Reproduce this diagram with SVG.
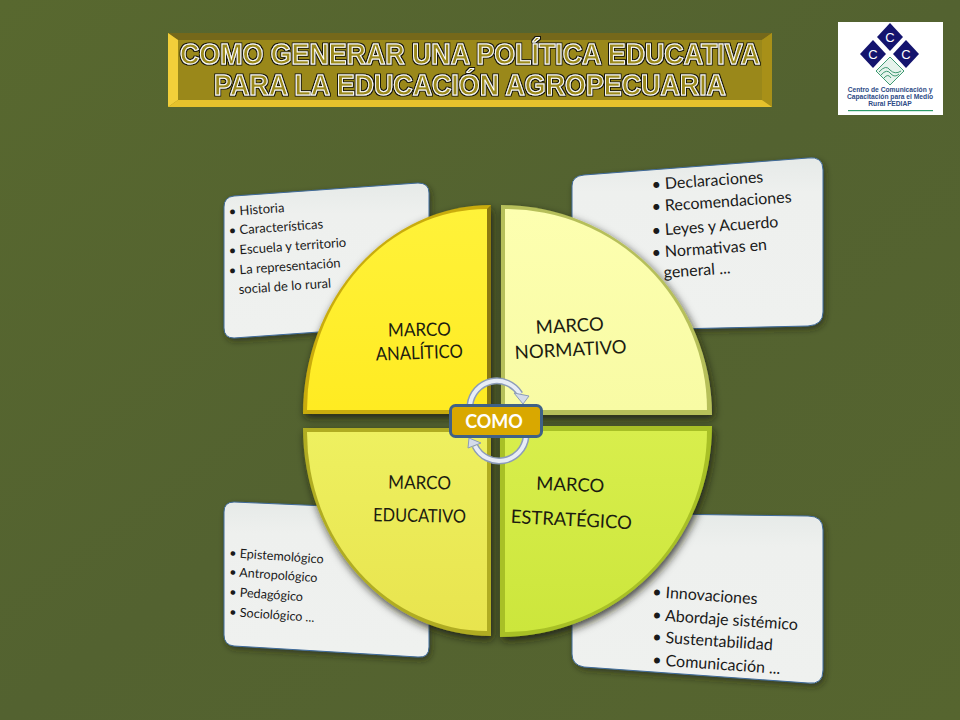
<svg xmlns="http://www.w3.org/2000/svg" width="960" height="720" viewBox="0 0 960 720">
<style>
.card{fill:url(#cardG);stroke:#3f6a9a;stroke-width:1;filter:url(#sh)}
.li{font-family:Lato,"Open Sans","Liberation Sans",sans-serif;fill:#1a1a1a}
.big{font-family:Lato,"Open Sans","Liberation Sans",sans-serif;fill:#1c1c10;font-size:18.5px;text-anchor:middle}
.title{font-family:"Liberation Sans",Arial,sans-serif;font-weight:bold;font-size:29px;fill:#9a881a;stroke:#fff;stroke-width:1;filter:url(#outline);text-anchor:start}
.logo{font-family:"Liberation Sans",Arial,sans-serif;font-weight:bold;font-size:6.7px;fill:#2c4a86;text-anchor:middle}
.c{font-family:"Liberation Sans",Arial,sans-serif;font-size:13px;fill:#fff;text-anchor:middle}
.dia{fill:#14146e}
.ring{fill:none;stroke:#8c9cb8;stroke-width:7}
.ringI{fill:none;stroke:#e8edf6;stroke-width:4}
.head{fill:#d4dcea;stroke:#8c9cb8;stroke-width:1}
</style>
<defs>
<linearGradient id="bg" x1="0" y1="0" x2="1" y2="1"><stop offset="0" stop-color="#58682f"/><stop offset=".5" stop-color="#536230"/><stop offset="1" stop-color="#56652f"/></linearGradient>
<linearGradient id="cardG" x1="0" y1="0" x2="0" y2="1"><stop offset="0" stop-color="#e6eae8"/><stop offset=".2" stop-color="#eef0ee"/><stop offset="1" stop-color="#eff1ef"/></linearGradient>
<linearGradient id="q1" x1="0" y1="0" x2="0" y2="1"><stop offset="0" stop-color="#fff23a"/><stop offset="1" stop-color="#ffeb22"/></linearGradient>
<linearGradient id="q2" x1="0" y1="0" x2="0" y2="1"><stop offset="0" stop-color="#fdffb0"/><stop offset="1" stop-color="#f8fba4"/></linearGradient>
<linearGradient id="q3" x1="0" y1="0" x2="0" y2="1"><stop offset="0" stop-color="#eef060"/><stop offset="1" stop-color="#e8e44e"/></linearGradient>
<linearGradient id="q4" x1="0" y1="0" x2="0" y2="1"><stop offset="0" stop-color="#d8ee4c"/><stop offset="1" stop-color="#cce63c"/></linearGradient>
<filter id="sh" x="-15%" y="-15%" width="130%" height="130%"><feDropShadow dx="2" dy="3" stdDeviation="3" flood-color="#1c2410" flood-opacity=".55"/></filter>
<filter id="qs" x="-15%" y="-15%" width="130%" height="130%"><feDropShadow dx="2" dy="4" stdDeviation="4" flood-color="#14180a" flood-opacity=".8"/></filter>
<filter id="outline" x="-5%" y="-20%" width="110%" height="140%">
<feMorphology in="SourceAlpha" operator="dilate" radius="1" result="d"/>
<feFlood flood-color="#16160c"/><feComposite in2="d" operator="in" result="k"/>
<feMerge><feMergeNode in="k"/><feMergeNode in="SourceGraphic"/></feMerge>
</filter>
</defs>
<rect id="background" width="960" height="720" fill="url(#bg)"/>

<g id="title">
<rect x="168" y="33" width="604" height="74" fill="#9a881a"/>
<polygon points="168,33 772,33 762,40 178,40" fill="#75681a"/>
<polygon points="168,33 178,40 178,100 168,107" fill="#f2cf3a"/>
<polygon points="772,33 762,40 762,100 772,107" fill="#a89018"/>
<polygon points="168,107 178,100 762,100 772,107" fill="#e6c22c"/>
<text class="title" x="180" y="64" textLength="580" lengthAdjust="spacingAndGlyphs">COMO GENERAR UNA POLÍTICA EDUCATIVA</text>
<text class="title" x="214" y="95" textLength="512" lengthAdjust="spacingAndGlyphs">PARA LA EDUCACIÓN AGROPECUARIA</text>
</g>

<g id="logo">
<rect x="838" y="22" width="105" height="93" fill="#fff"/>
<polygon class="dia" points="890,23 903,37 890,51 877,37"/>
<polygon class="dia" points="873,40 886,54 873,68 860,54"/>
<polygon class="dia" points="906,40 919,54 906,68 893,54"/>
<text class="c" x="890" y="42">C</text>
<text class="c" x="873" y="59">C</text>
<text class="c" x="906" y="59">C</text>
<polygon points="890,57 904,71 890,85 876,71" fill="#e6f3ec" stroke="#3f9a72" stroke-width="1"/>
<path d="M879,72 Q886,64 890,70 Q895,75 901,71 M881,75 Q887,68 891,74 Q895,78 899,74 M884,78 Q888,73 891,78" fill="none" stroke="#3f9a72" stroke-width="1"/>
<text class="logo" x="890" y="92">Centro de Comunicación y</text>
<text class="logo" x="890" y="99">Capacitación para el Medio</text>
<text class="logo" x="890" y="106">Rural FEDIAP</text>
<rect x="848" y="110" width="85" height="1.2" fill="#2f9a6a"/>
</g>

<g id="card-analitico">
<path class="card" d="M224,207 Q224,197 234,196 L418,183 Q429,183 429,193 L429,315 Q429,325 418,325 L234,338 Q224,338 224,328 Z"/>
<g class="li" font-size="13">
<text transform="translate(229,216) rotate(-4)">• Historia</text>
<text transform="translate(229,235) rotate(-4)">• Características</text>
<text transform="translate(229,255) rotate(-4)">• Escuela y territorio</text>
<text transform="translate(229,275) rotate(-4)">• La representación</text>
<text transform="translate(239,294) rotate(-4)">social de lo rural</text>
</g>
</g>
<g id="card-normativo">
<path class="card" d="M572,186 Q572,176 584,175 L808,158 Q823,156 823,170 L823,312 Q823,325 808,326 L584,331 Q572,331 572,320 Z"/>
<g class="li" font-size="16">
<text transform="translate(652,190) rotate(-4)">• Declaraciones</text>
<text transform="translate(652,212) rotate(-4)">• Recomendaciones</text>
<text transform="translate(652,236) rotate(-4)">• Leyes y Acuerdo</text>
<text transform="translate(652,258) rotate(-4)">• Normativas en</text>
<text transform="translate(664,278) rotate(-4)">general ...</text>
</g>
</g>
<g id="card-educativo">
<path class="card" d="M224,512 Q224,502 234,502 L418,510 Q429,510 429,520 L429,647 Q429,658 418,657 L234,646 Q224,645 224,635 Z"/>
<g class="li" font-size="12.6">
<text transform="translate(229,557) rotate(4)">• Epistemológico</text>
<text transform="translate(229,576) rotate(4)">• Antropológico</text>
<text transform="translate(229,596) rotate(4)">• Pedagógico</text>
<text transform="translate(229,616) rotate(4)">• Sociológico ...</text>
</g>
</g>
<g id="card-estrategico">
<path class="card" d="M572,525 Q572,513 584,513 L808,516 Q823,516 823,530 L823,670 Q823,685 808,683 L584,667 Q572,665 572,654 Z"/>
<g class="li" font-size="16">
<text transform="translate(652,597) rotate(4)">• Innovaciones</text>
<text transform="translate(652,620) rotate(4)">• Abordaje sistémico</text>
<text transform="translate(652,642) rotate(4)">• Sustentabilidad</text>
<text transform="translate(652,665) rotate(4)">• Comunicación ...</text>
</g>
</g>

<g id="marco-analitico">
<path d="M491,205 L491,414 L303,414 A188,209 0 0 1 491,205 Z" fill="#c9ac10" filter="url(#qs)"/>
<path d="M487,209 L487,410 L307,410 A180,201 0 0 1 487,209 Z" fill="url(#q1)"/>
<path d="M487,209 L487,410 L491,414 L491,205 Z" fill="#8c7a10"/>
<text class="big" transform="translate(419.500,336) rotate(-1)" textLength="63" lengthAdjust="spacingAndGlyphs">MARCO</text>
<text class="big" transform="translate(419.500,359) rotate(-2)" textLength="87" lengthAdjust="spacingAndGlyphs">ANALÍTICO</text>
</g>
<g id="marco-normativo">
<path d="M501,205 L501,415 L712,415 A211,210 0 0 0 501,205 Z" fill="#b6bf5a" filter="url(#qs)"/>
<path d="M505,209 L505,410 L707,410 A202,201 0 0 0 505,209 Z" fill="url(#q2)"/>
<text class="big" transform="translate(570,332) rotate(-3)" font-size="20">MARCO</text>
<text class="big" transform="translate(571,356) rotate(-3)" font-size="20">NORMATIVO</text>
</g>
<g id="marco-educativo">
<path d="M303,428 L491,428 L491,636 A188,208 0 0 1 303,428 Z" fill="#b0ac22" filter="url(#qs)"/>
<path d="M307,432 L487,432 L487,631 A180,199 0 0 1 307,432 Z" fill="url(#q3)"/>
<text class="big" transform="translate(419.500,489) rotate(1)" textLength="63" lengthAdjust="spacingAndGlyphs">MARCO</text>
<text class="big" transform="translate(419.500,522) rotate(1)" textLength="93" lengthAdjust="spacingAndGlyphs">EDUCATIVO</text>
</g>
<g id="marco-estrategico">
<path d="M500,426 L712,426 A212,211 0 0 1 500,637 Z" fill="#a8c028" filter="url(#qs)"/>
<path d="M505,431 L707,431 A202,201 0 0 1 505,632 Z" fill="url(#q4)"/>
<text class="big" transform="translate(570,491) rotate(2)" font-size="20">MARCO</text>
<text class="big" transform="translate(571,526) rotate(3)" font-size="20">ESTRATÉGICO</text>
</g>

<g id="connectors">
<path class="ring" d="M470,405 A27,27 0 0 1 520,394"/>
<path class="ringI" d="M470,405 A27,27 0 0 1 520,394"/>
<polygon class="head" points="514,393 529,396 523,404"/>
<path class="ring" d="M526,437 A27,27 0 0 1 475,446"/>
<path class="ringI" d="M526,437 A27,27 0 0 1 475,446"/>
<polygon class="head" points="481,443 469,438 468,448"/>
</g>
<g id="como">
<rect x="450.500" y="405.500" width="91" height="31" rx="5" fill="#d9a800" stroke="#3f6187" stroke-width="3"/>
<text x="494" y="428" font-family="Lato,'Open Sans','Liberation Sans',sans-serif" font-weight="bold" font-size="18" fill="#fff" text-anchor="middle">COMO</text>
</g>
</svg>
